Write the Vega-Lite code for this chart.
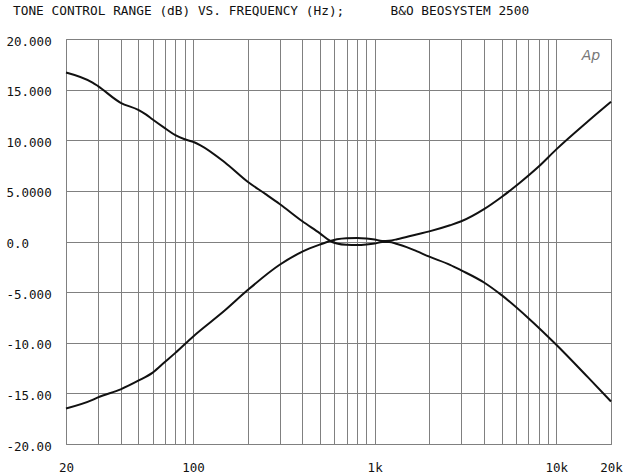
{
  "$schema": "https://vega.github.io/schema/vega-lite/v6.json",
  "width": 545,
  "height": 405,
  "autosize": {"type": "none"},
  "padding": {"left": 66, "top": 39, "right": 13, "bottom": 29},
  "background": "white",
  "title": {
    "text": "TONE CONTROL RANGE (dB) VS. FREQUENCY (Hz);\u00a0\u00a0\u00a0\u00a0\u00a0\u00a0B&O BEOSYSTEM 2500",
    "anchor": "start",
    "frame": "group",
    "dx": -53,
    "offset": 17,
    "font": "DejaVu Sans Mono",
    "fontSize": 12.8,
    "fontWeight": "normal",
    "color": "#111"
  },
  "config": {
    "view": {"stroke": "#777", "strokeWidth": 1},
    "axis": {
      "labelFont": "DejaVu Sans Mono",
      "labelFontSize": 12.5,
      "labelColor": "#111",
      "gridColor": "#808080",
      "gridWidth": 1,
      "gridOpacity": 1,
      "domain": false,
      "ticks": false,
      "tickSize": 0,
      "title": null
    }
  },
  "layer": [
    {
      "data": {
        "values": [
          {"f": 20, "db": 16.7, "s": "A"},
          {"f": 28, "db": 15.7, "s": "A"},
          {"f": 30, "db": 15.35, "s": "A"},
          {"f": 40, "db": 13.7, "s": "A"},
          {"f": 50, "db": 13.0, "s": "A"},
          {"f": 55, "db": 12.55, "s": "A"},
          {"f": 60, "db": 12.05, "s": "A"},
          {"f": 70, "db": 11.2, "s": "A"},
          {"f": 80, "db": 10.5, "s": "A"},
          {"f": 90, "db": 10.1, "s": "A"},
          {"f": 100, "db": 9.85, "s": "A"},
          {"f": 110, "db": 9.5, "s": "A"},
          {"f": 150, "db": 7.8, "s": "A"},
          {"f": 200, "db": 5.9, "s": "A"},
          {"f": 250, "db": 4.7, "s": "A"},
          {"f": 300, "db": 3.7, "s": "A"},
          {"f": 400, "db": 2.0, "s": "A"},
          {"f": 500, "db": 0.8, "s": "A"},
          {"f": 570, "db": 0.05, "s": "A"},
          {"f": 620, "db": -0.2, "s": "A"},
          {"f": 700, "db": -0.33, "s": "A"},
          {"f": 800, "db": -0.35, "s": "A"},
          {"f": 900, "db": -0.3, "s": "A"},
          {"f": 1000, "db": -0.2, "s": "A"},
          {"f": 1100, "db": -0.05, "s": "A"},
          {"f": 1200, "db": -0.05, "s": "A"},
          {"f": 1330, "db": -0.25, "s": "A"},
          {"f": 1500, "db": -0.55, "s": "A"},
          {"f": 1700, "db": -0.95, "s": "A"},
          {"f": 2000, "db": -1.5, "s": "A"},
          {"f": 2600, "db": -2.3, "s": "A"},
          {"f": 3000, "db": -2.85, "s": "A"},
          {"f": 4000, "db": -4.05, "s": "A"},
          {"f": 5000, "db": -5.3, "s": "A"},
          {"f": 7000, "db": -7.55, "s": "A"},
          {"f": 10000, "db": -10.2, "s": "A"},
          {"f": 15000, "db": -13.45, "s": "A"},
          {"f": 20000, "db": -15.8, "s": "A"},
          {"f": 20, "db": -16.5, "s": "B"},
          {"f": 28, "db": -15.65, "s": "B"},
          {"f": 30, "db": -15.4, "s": "B"},
          {"f": 40, "db": -14.6, "s": "B"},
          {"f": 50, "db": -13.75, "s": "B"},
          {"f": 60, "db": -12.95, "s": "B"},
          {"f": 70, "db": -11.9, "s": "B"},
          {"f": 80, "db": -11.0, "s": "B"},
          {"f": 100, "db": -9.4, "s": "B"},
          {"f": 150, "db": -6.8, "s": "B"},
          {"f": 200, "db": -4.8, "s": "B"},
          {"f": 300, "db": -2.3, "s": "B"},
          {"f": 400, "db": -1.0, "s": "B"},
          {"f": 500, "db": -0.3, "s": "B"},
          {"f": 570, "db": 0.05, "s": "B"},
          {"f": 620, "db": 0.22, "s": "B"},
          {"f": 700, "db": 0.33, "s": "B"},
          {"f": 800, "db": 0.35, "s": "B"},
          {"f": 900, "db": 0.3, "s": "B"},
          {"f": 1000, "db": 0.2, "s": "B"},
          {"f": 1100, "db": 0.05, "s": "B"},
          {"f": 1200, "db": 0.08, "s": "B"},
          {"f": 1330, "db": 0.22, "s": "B"},
          {"f": 1700, "db": 0.7, "s": "B"},
          {"f": 2000, "db": 1.0, "s": "B"},
          {"f": 2600, "db": 1.6, "s": "B"},
          {"f": 3000, "db": 2.0, "s": "B"},
          {"f": 4000, "db": 3.2, "s": "B"},
          {"f": 5000, "db": 4.4, "s": "B"},
          {"f": 6300, "db": 5.8, "s": "B"},
          {"f": 8000, "db": 7.4, "s": "B"},
          {"f": 10000, "db": 9.1, "s": "B"},
          {"f": 15000, "db": 11.9, "s": "B"},
          {"f": 20000, "db": 13.8, "s": "B"}
        ]
      },
      "mark": {"type": "line", "interpolate": "monotone", "strokeWidth": 2},
      "encoding": {
        "x": {
          "field": "f",
          "type": "quantitative",
          "scale": {"type": "log", "domain": [20, 20000], "nice": false},
          "axis": {
            "values": [20, 30, 40, 50, 60, 70, 80, 90, 100, 200, 300, 400, 500, 600, 700, 800, 900, 1000, 2000, 3000, 4000, 5000, 6000, 7000, 8000, 9000, 10000, 20000],
            "labelExpr": "datum.value == 20 ? '20' : datum.value == 100 ? '100' : datum.value == 1000 ? '1k' : datum.value == 10000 ? '10k' : datum.value == 20000 ? '20k' : ''",
            "labelPadding": 17,
            "labelFlush": false,
            "labelOverlap": false,
            "grid": true
          }
        },
        "y": {
          "field": "db",
          "type": "quantitative",
          "scale": {"domain": [-20, 20], "nice": false, "zero": false},
          "axis": {
            "values": [-20, -15, -10, -5, 0, 5, 10, 15, 20],
            "labelExpr": "datum.value == 20 ? '\u00a020.000' : datum.value == 15 ? '\u00a015.000' : datum.value == 10 ? '\u00a010.000' : datum.value == 5 ? '\u00a05.0000' : datum.value == 0 ? '\u00a00.0' : datum.value == -5 ? '-5.000' : datum.value == -10 ? '-10.00' : datum.value == -15 ? '-15.00' : '-20.00'",
            "labelAlign": "left",
            "labelPadding": 60,
            "labelOffset": 2,
            "labelFlush": false,
            "labelOverlap": false,
            "grid": true
          }
        },
        "detail": {"field": "s", "type": "nominal"},
        "color": {"value": "#111"}
      }
    },
    {
      "data": {"values": [{"f": 15500, "db": 18.3, "label": "Ap"}]},
      "mark": {"type": "text", "font": "DejaVu Sans", "fontStyle": "italic", "fontSize": 14, "color": "#777", "align": "center", "baseline": "middle"},
      "encoding": {
        "x": {"field": "f", "type": "quantitative"},
        "y": {"field": "db", "type": "quantitative"},
        "text": {"field": "label"}
      }
    }
  ]
}
